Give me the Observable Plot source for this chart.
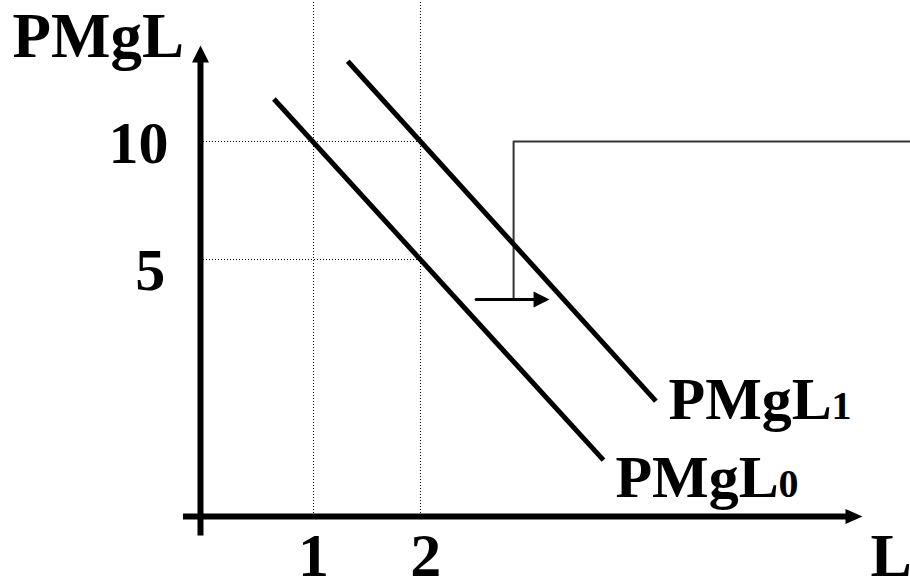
<!DOCTYPE html>
<html><head><meta charset="utf-8">
<script src="https://cdn.jsdelivr.net/npm/d3@7"></script>
<script src="https://cdn.jsdelivr.net/npm/@observablehq/plot@0.6"></script>
<style>html,body{margin:0;padding:0;background:#fff;}</style>
</head><body><div id="chart"></div>
<script>
// tick values
const xTicks = [1, 2];
const yTicks = [5, 10];
// demand curves (marginal product of labour)
const pmgl0 = [{L: 0.63, P: 11.8}, {L: 3.71, P: -3.5}];
const pmgl1 = [{L: 1.32, P: 13.4}, {L: 4.2, P: -1.0}];
// labour supply (kinked)
const supply = [{L: 2.87, P: 3.3}, {L: 2.87, P: 10}, {L: 6.6, P: 10}];
// shift arrow
const shiftLine = [{L: 2.52, P: 3.3}, {L: 3.12, P: 3.3}];
const shiftTip = [{L: 3.206, P: 3.3}];
// axes
const yAxisLine = [{L: -0.056, P: -6.7}, {L: -0.056, P: 13.5}];
const yAxisTip = [{L: -0.056, P: 14.07}];
const xAxisLine = [{L: -0.22, P: -5.89}, {L: 6.0, P: -5.89}];
const xAxisTip = [{L: 6.131, P: -5.89}];
// labels
const yTickLabels = [{L: -0.355, P: 9.07, t: "10"}, {L: -0.385, P: 3.69, t: "5"}];
const xTickLabels = [{L: 1, P: -8.4, t: "1"}, {L: 2.05, P: -8.4, t: "2"}];
const axisTitleY = [{L: -1.813, P: 13.56, t: "PMgL"}];
const axisTitleX = [{L: 6.206, P: -8.4, t: "L"}];
const curveLabels = [
  {L: 3.822, P: -5.08, t: "PMgL", s: "0"},
  {L: 4.318, P: -1.74, t: "PMgL", s: "1"}
];

function head(len, w, dir) {
  return {draw(ctx) {
    if (dir === "right") { ctx.moveTo(0, 0); ctx.lineTo(-len, -w / 2); ctx.lineTo(-len, w / 2); }
    else { ctx.moveTo(0, 0); ctx.lineTo(-w / 2, len); ctx.lineTo(w / 2, len); }
    ctx.closePath();
  }};
}

const font = {fontFamily: "Liberation Serif", fontWeight: "bold", fill: "black", lineAnchor: "bottom"};
const dotted = {stroke: "black", strokeWidth: 1, strokeDasharray: "1,2", shapeRendering: "crispEdges"};

const chart = Plot.plot({
  width: 910, height: 580,
  margin: 0,
  x: {domain: [-1.9252, 6.5794], axis: null},
  y: {domain: [-8.602, 15.975], axis: null},
  style: {background: "#fff", overflow: "visible"},
  marks: [
    Plot.ruleX(xTicks, {x: d => d, y1: -5.89, y2: 16, ...dotted}),
    Plot.ruleY(yTicks, {y: d => d, x1: -0.03, x2: 2, ...dotted}),
    Plot.line(supply, {x: "L", y: "P", stroke: "#333", strokeWidth: 2}),
    Plot.line(pmgl0, {x: "L", y: "P", stroke: "black", strokeWidth: 5, strokeLinecap: "butt"}),
    Plot.line(pmgl1, {x: "L", y: "P", stroke: "black", strokeWidth: 5, strokeLinecap: "butt"}),
    Plot.line(shiftLine, {x: "L", y: "P", stroke: "black", strokeWidth: 3}),
    Plot.dot(shiftTip, {x: "L", y: "P", symbol: head(16, 16, "right"), fill: "black", stroke: "none"}),
    Plot.line(yAxisLine, {x: "L", y: "P", stroke: "black", strokeWidth: 6, strokeLinecap: "butt"}),
    Plot.dot(yAxisTip, {x: "L", y: "P", symbol: head(17, 17, "up"), fill: "black", stroke: "none"}),
    Plot.line(xAxisLine, {x: "L", y: "P", stroke: "black", strokeWidth: 6, strokeLinecap: "butt"}),
    Plot.dot(xAxisTip, {x: "L", y: "P", symbol: head(17, 15, "right"), fill: "black", stroke: "none"}),
    Plot.text(yTickLabels, {x: "L", y: "P", text: "t", fontSize: 60, textAnchor: "end", ...font}),
    Plot.text(xTickLabels, {x: "L", y: "P", text: "t", fontSize: 62, textAnchor: "middle", ...font}),
    Plot.text(axisTitleY, {x: "L", y: "P", text: "t", fontSize: 63, textAnchor: "start", ...font}),
    Plot.text(axisTitleX, {x: "L", y: "P", text: "t", fontSize: 62, textAnchor: "start", ...font}),
    Plot.text(curveLabels, {x: "L", y: "P", text: "t", fontSize: 60, textAnchor: "start", ...font}),
    Plot.text(curveLabels, {x: "L", y: "P", text: "s", fontSize: 40, textAnchor: "start", dx: 163, ...font})
  ]
});
document.getElementById("chart").appendChild(chart);
</script>
</body></html>
